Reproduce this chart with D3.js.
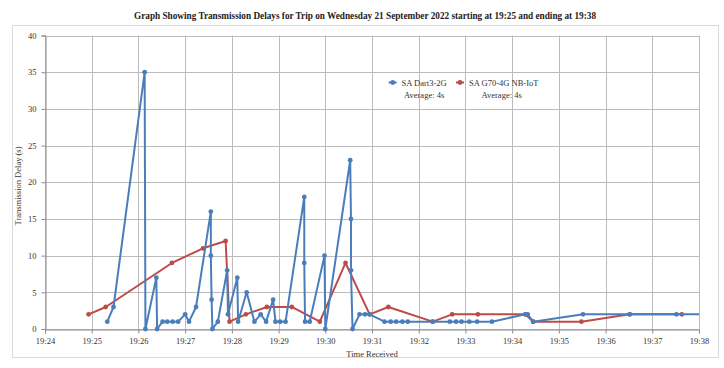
<!DOCTYPE html>
<html><head><meta charset="utf-8">
<script src="https://cdn.jsdelivr.net/npm/d3@7"></script>
<style>html,body{margin:0;padding:0;background:#fff;}svg{display:block;}</style>
</head><body>
<svg id="chart" width="724" height="368"></svg>
<script>
const titleText = "Graph Showing Transmission Delays for Trip on Wednesday 21 September 2022 starting at 19:25 and ending at 19:38";
const xTitle = "Time Received";
const yTitle = "Transmission Delay (s)";
const seriesNames = ["SA Dart3-2G", "SA G70-4G NB-IoT"];
const seriesAverages = ["Average: 4s", "Average: 4s"];
const yTicks = [0, 5, 10, 15, 20, 25, 30, 35, 40];
const xDomain = ["19:24:00", "19:38:00"];

const dartTimes = ["19:25:20","19:25:28","19:26:08","19:26:09","19:26:23","19:26:24","19:26:31","19:26:37","19:26:44","19:26:51",
  "19:27:00","19:27:05","19:27:14","19:27:33","19:27:33","19:27:34","19:27:35","19:27:42","19:27:54","19:27:55",
  "19:28:07","19:28:08","19:28:19","19:28:29","19:28:37","19:28:44","19:28:53","19:28:56","19:29:02","19:29:09",
  "19:29:33","19:29:33","19:29:34","19:29:40","19:29:59","19:30:00","19:30:32","19:30:33","19:30:33","19:30:35",
  "19:30:44","19:30:51","19:30:57","19:31:16","19:31:24","19:31:31","19:31:39","19:31:46","19:32:18","19:32:40",
  "19:32:48","19:32:55","19:33:05","19:33:15","19:33:34","19:34:17","19:34:20","19:34:27","19:35:31","19:36:31",
  "19:37:31","19:38:05"];
const dartValues = [1,3,35,0,7,0,1,1,1,1,
  2,1,3,16,10,4,0,1,8,2,
  7,1,5,1,2,1,4,1,1,1,
  18,9,1,1,10,0,23,15,8,0,
  2,2,2,1,1,1,1,1,1,1,
  1,1,1,1,1,2,2,1,2,2,
  2,2];

const g70Times = ["19:24:56","19:25:18","19:26:43","19:27:23","19:27:52","19:27:57","19:28:18","19:28:45","19:29:17","19:29:53",
  "19:30:26","19:30:57","19:31:21","19:32:18","19:32:43","19:33:16","19:34:17","19:34:27","19:35:29","19:36:31","19:37:38"];
const g70Values = [2,3,9,11,12,1,2,3,3,1,
  9,2,3,1,2,2,2,1,1,2,2];

const colors = ["#4a7ebb", "#be4b48"];

(function draw() {
const parse = d3.timeParse("%H:%M:%S");
const svg = d3.select("#chart");
const pL = 45, pR = 699, pT = 35.5, pB = 329;

const x = d3.scaleTime().domain(xDomain.map(parse)).range([pL, pR]);
const y = d3.scaleLinear().domain([0, 40]).range([pB, pT]);

// outer border
svg.append("rect").attr("x", 12.5).attr("y", 25.5).attr("width", 706).attr("height", 332)
  .attr("fill", "#fff").attr("stroke", "#d9d9d9");

// title
svg.append("text").attr("x", 365).attr("y", 18.5).attr("text-anchor", "middle")
  .attr("font-family", "Liberation Serif").attr("font-size", 10.5).attr("font-weight", "bold").attr("fill", "#222")
  .attr("textLength", 462).attr("lengthAdjust", "spacingAndGlyphs").text(titleText);

// grid
const xTickVals = d3.timeMinute.range(parse("19:24:00"), d3.timeSecond.offset(parse("19:38:00"), 1));
svg.append("g").selectAll("line").data(yTicks).join("line")
  .attr("x1", pL).attr("x2", pR).attr("y1", d => Math.round(y(d)) + 0.5).attr("y2", d => Math.round(y(d)) + 0.5)
  .attr("stroke", "#bcbcbc").attr("stroke-width", 1);
svg.append("g").selectAll("line").data(xTickVals).join("line")
  .attr("x1", d => Math.round(x(d)) + 0.5).attr("x2", d => Math.round(x(d)) + 0.5).attr("y1", pT).attr("y2", pB)
  .attr("stroke", "#bcbcbc").attr("stroke-width", 1);

// axes
const yAxis = d3.axisLeft(y).tickValues(yTicks).tickSize(4).tickPadding(5);
const gy = svg.append("g").attr("transform", `translate(${pL + 0.5},0)`).call(yAxis);
const xAxis = d3.axisBottom(x).tickValues(xTickVals).tickFormat(d3.timeFormat("%H:%M")).tickSize(4).tickPadding(4);
const gx = svg.append("g").attr("transform", `translate(0,${Math.round(pB) + 0.5})`).call(xAxis);
[gx, gy].forEach(g => {
  g.selectAll(".domain").attr("stroke", "#8c8c8c");
  g.selectAll(".tick line").attr("stroke", "#8c8c8c");
  g.selectAll("text").attr("font-family", "Liberation Serif").attr("font-size", 8.5).attr("fill", "#333");
});

// axis titles
svg.append("text").attr("x", 372).attr("y", 357).attr("text-anchor", "middle")
  .attr("font-family", "Liberation Serif").attr("font-size", 8.5).attr("fill", "#333").text(xTitle);
svg.append("text").attr("transform", "translate(21,186) rotate(-90)").attr("text-anchor", "middle")
  .attr("font-family", "Liberation Serif").attr("font-size", 8.5).attr("fill", "#333").text(yTitle);

// clip
svg.append("clipPath").attr("id", "plotclip").append("rect")
  .attr("x", pL - 4).attr("y", pT - 4).attr("width", pR - pL + 4).attr("height", pB - pT + 8);

const series = [
  dartTimes.map((t, i) => ({t: parse(t), v: dartValues[i]})),
  g70Times.map((t, i) => ({t: parse(t), v: g70Values[i]}))
];
const line = d3.line().x(d => x(d.t)).y(d => y(d.v));
const plot = svg.append("g").attr("clip-path", "url(#plotclip)");
[1, 0].forEach(si => {
  const g = plot.append("g");
  g.append("path").datum(series[si]).attr("d", line).attr("fill", "none")
    .attr("stroke", colors[si]).attr("stroke-width", 2).attr("stroke-linejoin", "round");
  g.selectAll("circle").data(series[si].filter(d => d.t <= parse("19:38:00"))).join("circle")
    .attr("cx", d => x(d.t)).attr("cy", d => y(d.v)).attr("r", 2.4).attr("fill", colors[si]);
});

// legend
const legX = [392.7, 460], legTextX = [401.5, 469], avgX = [404, 481.5];
seriesNames.forEach((n, i) => {
  svg.append("line").attr("x1", legX[i] - 4).attr("x2", legX[i] + 4).attr("y1", 82.5).attr("y2", 82.5)
    .attr("stroke", colors[i]).attr("stroke-width", 2);
  svg.append("circle").attr("cx", legX[i]).attr("cy", 82.5).attr("r", 2.4).attr("fill", colors[i]);
  svg.append("text").attr("x", legTextX[i]).attr("y", 85.5).attr("font-family", "Liberation Serif")
    .attr("font-size", 8.5).attr("fill", "#333").text(n);
  svg.append("text").attr("x", avgX[i]).attr("y", 98).attr("font-family", "Liberation Serif")
    .attr("font-size", 8.5).attr("fill", "#333").text(seriesAverages[i]);
});
})();
</script>
</body></html>
